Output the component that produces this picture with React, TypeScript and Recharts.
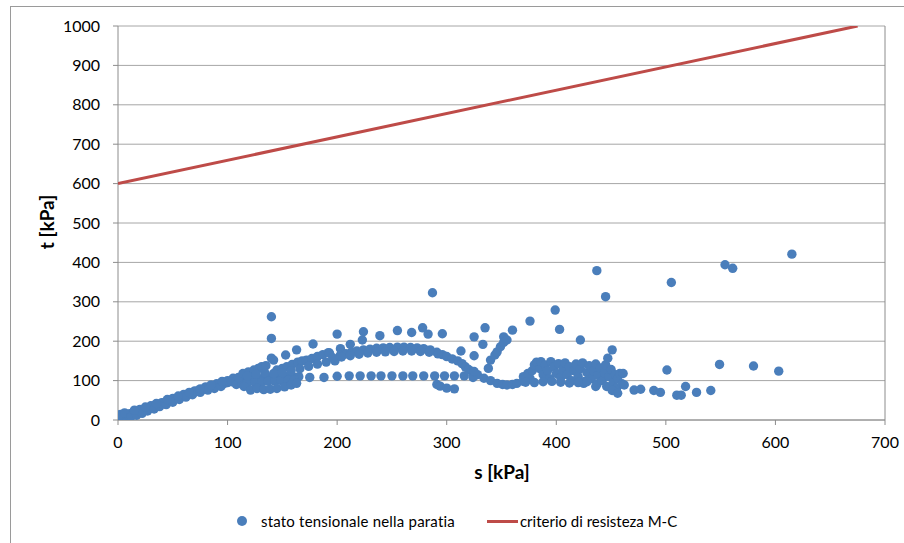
import React from "react";
import {
  ComposedChart,
  Scatter,
  XAxis,
  YAxis,
  CartesianGrid,
  ReferenceLine,
} from "recharts";

// ---- data: [s, t] pairs in kPa ----
const risingBand: [number, number][] = [
  [0, 2], [1, 6], [2, 9], [3, 3], [4, 11], [5, 6], [6, 13], [7, 8], [8, 15], [10, 11],
  [11, 16], [13, 14], [14, 19], [16, 17], [18, 21], [20, 22], [22, 25], [24, 27], [26, 29],
  [28, 31], [30, 33], [32, 35], [34, 37], [36, 38], [38, 40], [40, 41], [42, 43], [44, 46],
  [46, 47], [48, 49], [50, 51], [52, 54], [54, 56], [56, 58], [58, 60], [60, 62], [62, 63],
  [64, 65], [66, 67], [68, 69], [70, 71], [72, 73], [74, 75], [76, 76], [78, 78], [80, 80],
  [82, 81], [84, 83], [86, 84], [88, 86], [90, 88], [92, 89], [94, 91], [96, 92], [98, 94],
  [100, 95], [20, 27], [30, 36], [40, 44], [50, 55], [60, 65], [70, 74], [80, 84], [90, 92],
  [100, 100], [105, 106],
  [2, 14], [6, 18], [12, 9], [17, 12], [22, 17], [27, 23], [33, 28], [38, 34], [44, 39],
  [50, 45], [56, 52], [62, 58], [68, 64], [75, 70], [82, 76], [88, 80], [94, 85], [15, 25],
  [25, 33], [35, 42], [45, 52], [55, 61], [65, 70], [75, 79], [85, 89], [95, 98],
];

const midBand: [number, number][] = [
  [104, 97], [108, 99], [112, 100], [116, 101], [120, 102], [124, 103], [128, 104],
  [132, 105], [136, 106], [140, 106], [145, 107], [150, 108], [155, 108], [160, 109],
  [165, 110], [175, 108], [188, 108],
  [108, 90], [113, 92], [118, 94], [125, 95], [131, 96], [137, 98], [143, 99], [149, 100],
  [155, 101], [161, 102],
  [115, 85], [121, 76], [127, 80], [133, 77], [139, 78], [145, 80], [152, 84], [158, 89],
  [163, 93],
];

const upperArch: [number, number][] = [
  [110, 108], [114, 118], [119, 122], [124, 127], [128, 131], [131, 135], [135, 138],
  [145, 127], [150, 131], [154, 135], [159, 141], [164, 147], [168, 150], [172, 152],
  [177, 156], [182, 161], [187, 166], [192, 171], [203, 181],
  [118, 112], [126, 116], [134, 120], [142, 118], [150, 120], [158, 125], [166, 130],
  [174, 136], [182, 142], [190, 147],
  [193, 170], [198, 150], [203, 165], [208, 168], [213, 172], [218, 175], [224, 178],
  [230, 180], [236, 182], [242, 183], [248, 184], [255, 185], [261, 185], [267, 184],
  [273, 183], [279, 181], [285, 178], [291, 172], [296, 166], [300, 161], [305, 155],
  [310, 150], [314, 143], [317, 135], [320, 128], [323, 123], [328, 115], [334, 106],
  [340, 100], [346, 93], [351, 90], [355, 89], [360, 90], [364, 93], [370, 98], [376, 106],
  [196, 158], [204, 160], [212, 163], [220, 167], [228, 170], [236, 172], [244, 173],
  [252, 174], [260, 175], [268, 175], [276, 174], [284, 172], [292, 168],
];

const lowerLine: [number, number][] = [
  [200, 111], [211, 112], [221, 112], [231, 112], [240, 112], [250, 112], [260, 112],
  [269, 112], [279, 112], [289, 112], [298, 112], [307, 112], [316, 112], [324, 108],
  [291, 90], [294, 86], [300, 81], [307, 79],
];

const upperPoints: [number, number][] = [
  [140, 262], [140, 207], [140, 157], [142, 152], [153, 165], [163, 178], [178, 193],
  [200, 218], [212, 192], [224, 224], [223, 203], [239, 214], [255, 227], [268, 222],
  [278, 234], [283, 218], [296, 219], [287, 323], [313, 175], [325, 211], [335, 234],
  [333, 192], [325, 163], [352, 211], [360, 228], [376, 251], [399, 279], [403, 230],
  [422, 203], [325, 123], [338, 131],
  [340, 152], [344, 165], [346, 173], [349, 186], [352, 197], [355, 203],
];

const cluster: [number, number][] = [
  [370, 110], [374, 118], [378, 125], [380, 140], [382, 147], [385, 130], [386, 148],
  [388, 115], [390, 140], [392, 125], [394, 105], [395, 148], [398, 135], [400, 118],
  [402, 143], [404, 108], [406, 128], [408, 145], [410, 115], [412, 135], [414, 100],
  [416, 125], [418, 142], [420, 110], [422, 130], [424, 145], [426, 98], [428, 120],
  [430, 138], [432, 105], [434, 125], [436, 142], [437, 90], [438, 113], [440, 132],
  [442, 100], [444, 120], [445, 140], [446, 85], [448, 110], [450, 128], [452, 95],
  [454, 115], [455, 80], [456, 105], [458, 118], [460, 92], [461, 118], [462, 89],
  [451, 75], [456, 68], [436, 85], [425, 93], [447, 157], [451, 178],
  [372, 96], [380, 95], [388, 97], [396, 98], [404, 96], [412, 94], [420, 95], [428, 97],
];

const rightTail: [number, number][] = [
  [471, 76], [477, 78], [489, 75], [495, 70], [510, 63], [514, 63], [518, 85], [528, 70],
  [541, 75],
  [437, 379], [445, 313], [505, 349], [554, 394], [561, 385], [615, 421],
  [501, 127], [549, 141], [580, 137], [603, 124],
];

const criterion: [number, number][] = [
  [0, 600],
  [675, 1000],
];

const xTicks = [0, 100, 200, 300, 400, 500, 600, 700];
const yTicks = [0, 100, 200, 300, 400, 500, 600, 700, 800, 900, 1000];

const seriesName = "stato tensionale nella paratia";
const lineName = "criterio di resisteza M-C";

const toObj = (arr: [number, number][]) => arr.map(([s, t]) => ({ s, t }));
const stressData = toObj([
  ...risingBand,
  ...midBand,
  ...upperArch,
  ...lowerLine,
  ...upperPoints,
  ...cluster,
  ...rightTail,
]);
const criterionData = toObj(criterion);

const FONT = "Lato, 'Open Sans', sans-serif";
const BLUE = "#4A7EBB";
const RED = "#BE4B48";
const GRID = "#A6A6A6";

const Dot = (props: any) => {
  const { cx, cy } = props;
  if (cx == null || cy == null) return <g />;
  return <circle cx={cx} cy={cy} r={4.7} fill={BLUE} />;
};

const NoDot = () => <g />;

export default function App() {
  return (
    <div
      style={{
        position: "absolute",
        left: 0,
        top: 0,
        width: 904,
        height: 543,
        background: "#fff",
        fontFamily: FONT,
        overflow: "hidden",
      }}
    >
      <div
        style={{
          position: "absolute",
          left: 10,
          top: 6,
          width: 910,
          height: 560,
          borderLeft: "1px solid #9a9a9a",
          borderTop: "1px solid #9a9a9a",
        }}
      />
      <div style={{ position: "absolute", left: 0, top: 0 }}>
        <ComposedChart
          width={904}
          height={543}
          margin={{ top: 26, right: 19, left: 58, bottom: 93 }}
        >
          <CartesianGrid
            horizontal
            vertical={false}
            stroke={GRID}
            strokeWidth={1}
          />
          <XAxis
            type="number"
            dataKey="s"
            domain={[0, 700]}
            ticks={xTicks}
            interval={0}
            height={30}
            tickSize={5}
            tickMargin={12}
            stroke="#8c8c8c"
            tick={{ fill: "#000", fontSize: 16, fontFamily: FONT }}
            allowDataOverflow
          />
          <YAxis
            type="number"
            dataKey="t"
            domain={[0, 1000]}
            ticks={yTicks}
            interval={0}
            width={60}
            tickSize={5}
            tickMargin={13}
            stroke="#8c8c8c"
            tick={{ fill: "#000", fontSize: 16, fontFamily: FONT }}
            allowDataOverflow
          />
          <ReferenceLine x={700} stroke="#8c8c8c" strokeWidth={1} />
          <Scatter
            name={seriesName}
            data={stressData}
            dataKey="t"
            fill={BLUE}
            shape={Dot}
            isAnimationActive={false}
          />
          <Scatter
            name={lineName}
            data={criterionData}
            dataKey="t"
            fill={RED}
            line={{ stroke: RED, strokeWidth: 3 }}
            shape={NoDot}
            isAnimationActive={false}
          />
        </ComposedChart>
      </div>
      <div
        style={{
          position: "absolute",
          left: 46,
          top: 222,
          transform: "translate(-50%, -50%) rotate(-90deg)",
          fontWeight: "bold",
          fontSize: 19,
          whiteSpace: "nowrap",
          color: "#000",
        }}
      >
        t [kPa]
      </div>
      <div
        style={{
          position: "absolute",
          left: 502,
          top: 471,
          transform: "translate(-50%, -50%)",
          fontWeight: "bold",
          fontSize: 19,
          whiteSpace: "nowrap",
          color: "#000",
        }}
      >
        s [kPa]
      </div>
      <div
        style={{
          position: "absolute",
          left: 237,
          top: 511,
          height: 20,
          display: "flex",
          alignItems: "center",
          fontSize: 15,
          color: "#000",
          whiteSpace: "nowrap",
        }}
      >
        <span
          style={{
            display: "inline-block",
            width: 10,
            height: 10,
            borderRadius: 5,
            background: BLUE,
            marginRight: 14,
          }}
        />
        <span style={{ letterSpacing: 0.2 }}>{seriesName}</span>
        <span
          style={{
            display: "inline-block",
            width: 31,
            height: 3,
            background: RED,
            marginLeft: 32,
            marginRight: 2,
          }}
        />
        <span>{lineName}</span>
      </div>
    </div>
  );
}
